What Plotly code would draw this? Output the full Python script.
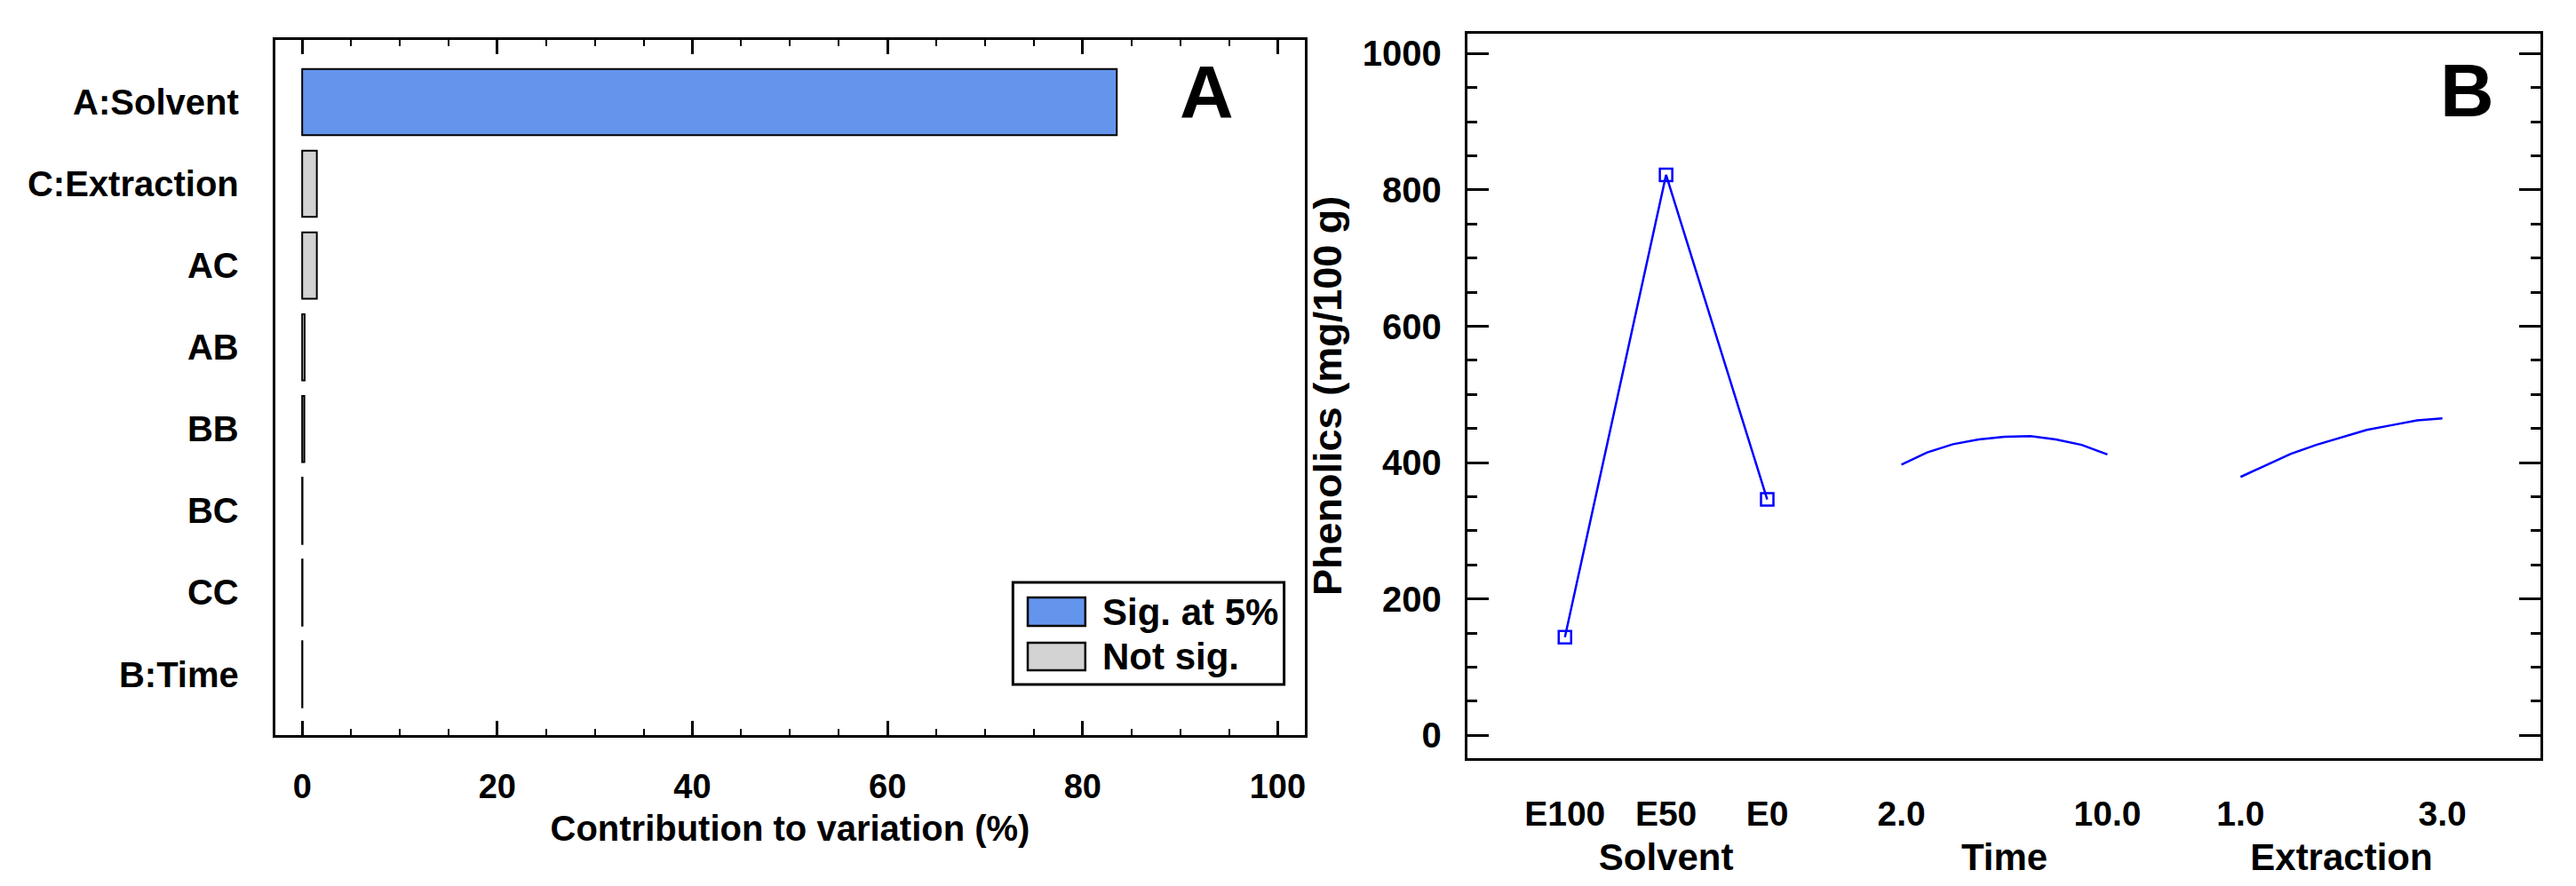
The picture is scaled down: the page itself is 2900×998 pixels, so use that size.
import plotly.graph_objects as go

W, H = 2900, 998

# ---- panel A: Pareto-style contribution bars
effects = ["A:Solvent", "C:Extraction", "AC", "AB", "BB", "BC", "CC", "B:Time"]
contribution = [83.5, 1.5, 1.5, 0.25, 0.22, 0.03, 0.03, 0.02]
significant = [True, False, False, False, False, False, False, False]

# ---- panel B: main effects on phenolics
solvent_levels = ["E100", "E50", "E0"]
solvent_phenolics = [144, 822, 346]

time_levels = [2, 3, 4, 5, 6, 7, 8, 9, 10]
time_phenolics = [397, 415, 427, 434, 438, 439, 434, 426, 412]

extraction_levels = [1.0, 1.25, 1.5, 1.75, 2.0, 2.25, 2.5, 2.75, 3.0]
extraction_phenolics = [379, 396, 413, 426, 437, 448, 455, 462, 465]

BLUE = "#6495ED"
GREY = "#D3D3D3"
LINE_BLUE = "#0000FF"
FONT = "Liberation Sans, Arial, sans-serif"


def px_x(v):
    return v / W


def px_y(v):
    return 1 - v / H


def bold(size):
    return dict(family=FONT, size=size, color="black", weight="bold")


fig = go.Figure()

fig.add_trace(
    go.Bar(
        x=contribution,
        y=list(range(len(effects))),
        orientation="h",
        width=0.81,
        marker=dict(
            color=[BLUE if s else GREY for s in significant],
            line=dict(color="black", width=2),
        ),
        showlegend=False,
        xaxis="x",
        yaxis="y",
    )
)

# empty trace so the frame axis pair (x2, y2) becomes a real subplot
fig.add_trace(go.Scatter(x=[None], y=[None], xaxis="x2", yaxis="y2",
                         showlegend=False, hoverinfo="skip"))

trace_style = dict(line=dict(color=LINE_BLUE, width=2.5), showlegend=False, yaxis="y2")
fig.add_trace(
    go.Scatter(
        x=solvent_levels,
        y=solvent_phenolics,
        mode="lines+markers",
        marker=dict(symbol="square-open", size=14, color=LINE_BLUE, line=dict(width=2.5)),
        xaxis="x3",
        **trace_style,
    )
)
fig.add_trace(go.Scatter(x=time_levels, y=time_phenolics, mode="lines", xaxis="x4", **trace_style))
fig.add_trace(
    go.Scatter(x=extraction_levels, y=extraction_phenolics, mode="lines", xaxis="x5", **trace_style)
)

axis_common = dict(showgrid=False, zeroline=False, linecolor="black", linewidth=3)
bottom_axis = dict(
    **axis_common,
    anchor="y2",
    ticks="",
    showline=False,
    tickfont=bold(39),
    ticklabelstandoff=36,
)

fig.update_layout(
    width=W,
    height=H,
    margin=dict(l=0, r=0, t=0, b=0),
    paper_bgcolor="white",
    plot_bgcolor="white",
    font=bold(38),
    xaxis=dict(
        **axis_common,
        domain=[px_x(286), px_x(1467)],
        range=[-2.77, 102.8],
        anchor="y",
        tickvals=[0, 20, 40, 60, 80, 100],
        ticks="inside",
        ticklen=16,
        tickwidth=2.5,
        tickcolor="black",
        minor=dict(dtick=5, ticks="inside", ticklen=7, tickwidth=2, tickcolor="black"),
        showline=True,
        mirror="ticks",
        tickfont=bold(38),
        ticklabelstandoff=22,
        title=dict(text="Contribution to variation (%)", font=bold(40), standoff=14),
    ),
    yaxis=dict(
        **axis_common,
        domain=[px_y(820), px_y(37)],
        range=[7.744, -0.76],
        anchor="x",
        tickvals=list(range(len(effects))),
        ticktext=effects,
        ticks="",
        showline=True,
        mirror=True,
        tickfont=bold(40),
        ticklabelstandoff=30,
    ),
    xaxis2=dict(
        **axis_common,
        domain=[px_x(1653), px_x(2884)],
        range=[0, 1],
        anchor="y2",
        showline=True,
        mirror=True,
        ticks="",
        showticklabels=False,
    ),
    yaxis2=dict(
        **axis_common,
        domain=[px_y(845.7), px_y(30)],
        range=[-33, 1029],
        anchor="x2",
        tickvals=[0, 200, 400, 600, 800, 1000],
        ticks="inside",
        ticklen=24,
        tickwidth=3,
        tickcolor="black",
        minor=dict(dtick=50, ticks="inside", ticklen=11, tickwidth=3, tickcolor="black"),
        showline=True,
        mirror="ticks",
        tickfont=bold(40),
        ticklabelstandoff=18,
        title=dict(text="Phenolics (mg/100 g)", font=bold(45), standoff=10),
    ),
    xaxis3=dict(
        **bottom_axis,
        domain=[px_x(1707), px_x(2055)],
        type="category",
        range=[-0.5, 2.5],
        title=dict(text="Solvent", font=bold(42), standoff=13),
    ),
    xaxis4=dict(
        **bottom_axis,
        domain=[px_x(2145), px_x(2393)],
        range=[1.8, 10.2],
        tickvals=[2, 10],
        ticktext=["2.0", "10.0"],
        title=dict(text="Time", font=bold(42), standoff=13),
    ),
    xaxis5=dict(
        **bottom_axis,
        domain=[px_x(2534), px_x(2777)],
        range=[0.95, 3.05],
        tickvals=[1, 3],
        ticktext=["1.0", "3.0"],
        title=dict(text="Extraction", font=bold(42), standoff=13),
    ),
)

# panel letters
fig.add_annotation(text="A", x=px_x(1354), y=px_y(96), xref="paper", yref="paper",
                   showarrow=False, font=bold(84), xanchor="center", yanchor="middle")
fig.add_annotation(text="B", x=px_x(2800), y=px_y(94), xref="paper", yref="paper",
                   showarrow=False, font=bold(84), xanchor="center", yanchor="middle")

# legend box for panel A, drawn by hand so the swatches can be large
fig.add_shape(type="rect", xref="paper", yref="paper",
              x0=px_x(1132), x1=px_x(1443), y0=px_y(763), y1=px_y(648),
              line=dict(color="black", width=3), fillcolor="white")
for (top, bottom), color, label in [
    ((665, 697), BLUE, "Sig. at 5%"),
    ((716, 747), GREY, "Not sig."),
]:
    fig.add_shape(type="rect", xref="paper", yref="paper",
                  x0=px_x(1149), x1=px_x(1215), y0=px_y(bottom), y1=px_y(top),
                  line=dict(color="black", width=2.5), fillcolor=color)
    fig.add_annotation(text=label, x=px_x(1233), y=px_y((top + bottom) / 2),
                       xref="paper", yref="paper", showarrow=False,
                       font=bold(42), xanchor="left", yanchor="middle")

fig.write_html("out.html")
